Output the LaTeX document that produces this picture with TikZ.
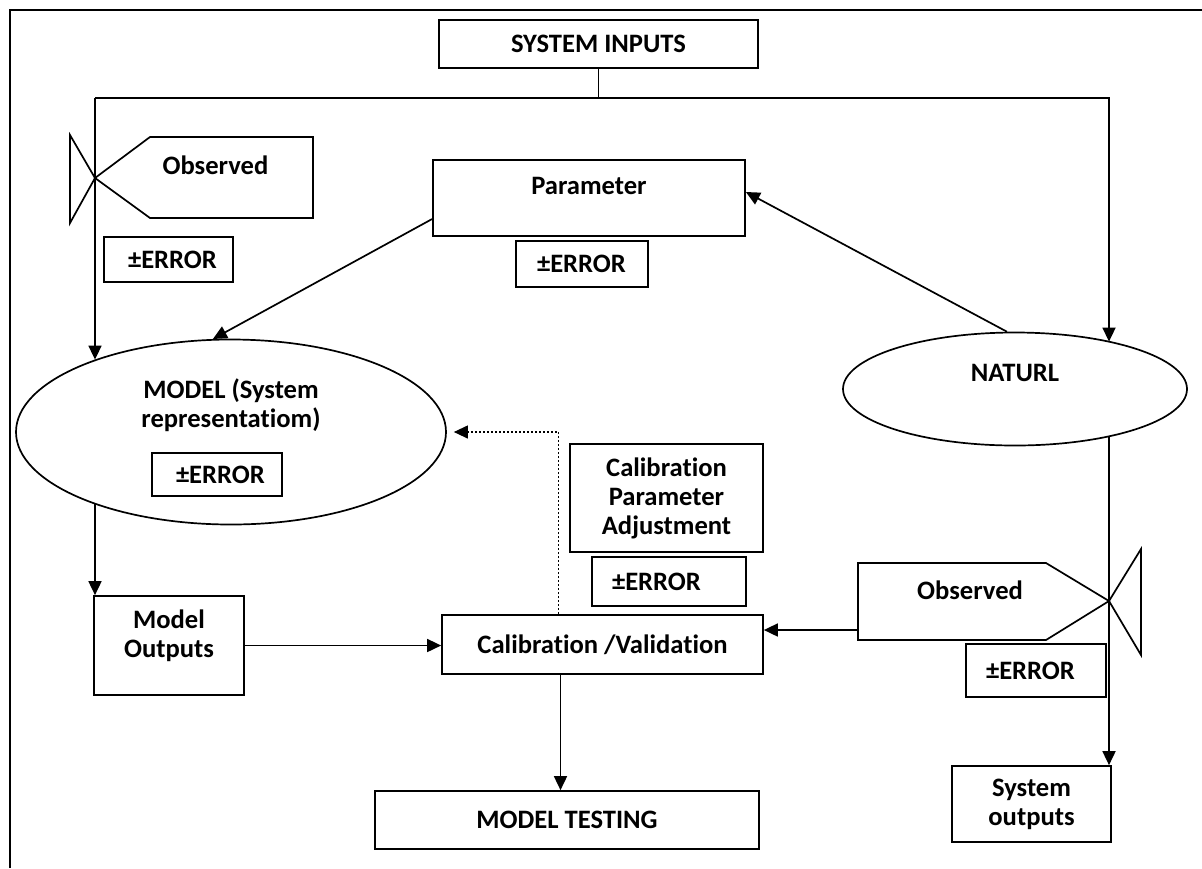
\documentclass[tikz,border=0pt]{standalone}
\usepackage{fontspec}
\setmainfont{Carlito}[Ligatures={NoCommon}]
\usetikzlibrary{arrows.meta,shapes.geometric}

\begin{document}
\begin{tikzpicture}[
      x=0.5pt, y=-0.5pt, line width=0.85pt,
      >={Triangle[length=7pt,width=6.5pt]},
      box/.style={draw, align=center, inner sep=0pt,
        font=\fontsize{13.3}{14.5}\selectfont\bfseries},
      errbox/.style={box, align=left, inner xsep=10pt},
      oval/.style={box, ellipse},
      label/.style={font=\fontsize{13.3}{14.5}\selectfont\bfseries, align=center},
      arrow/.style={->},
      feedback/.style={->, dash pattern=on 1pt off 1pt, line width=0.6pt}
    ]
    \useasboundingbox (0,0) rectangle (1202,868);
    \draw[line width=1.4pt] (10,868) -- (10,10) -- (1202,10);

    % Inputs and parameters
    \node[box, minimum width=159.5pt, minimum height=24pt] (inputs) at (598.5,44) {SYSTEM INPUTS};
    \node[box, minimum width=156pt, minimum height=38pt, text depth=12.5pt] (param) at (589,198) {Parameter};
    \node[errbox, text width=45pt, inner xsep=10.5pt, minimum height=23pt] (errP) at (582,264) {±ERROR};

    % Observed (input side)
    \coordinate (obsLtip) at (95,178);
    \draw (obsLtip) -- (150,137) -- (313,137) -- (313,218) -- (150,218) -- cycle;
    \draw (70,135) -- (70,223) -- (obsLtip) -- cycle;
    \node[label] (obsL) at (215.5,165) {Observed};
    \node[errbox, text width=40.5pt, inner xsep=12pt, minimum height=22.5pt] (errL) at (168.5,259.5) {±ERROR};

    % Model and nature
    \node[oval, minimum width=215pt, minimum height=92.5pt] (model) at (231,432) {};
    \node[label] (modeltxt) at (231,405) {MODEL (System\\representatiom)};
    \node[errbox, text width=41pt, inner xsep=12pt, minimum height=21.5pt] (errM) at (217,474.5) {±ERROR};
    \node[oval, minimum width=172pt, minimum height=56.5pt, text depth=16pt] (naturl) at (1015,389) {NATURL};

    % Calibration
    \node[box, minimum width=75pt, minimum height=49.5pt, text depth=11.5pt] (mout) at (169,645.5) {Model\\Outputs};
    \node[box, minimum width=96.5pt, minimum height=54pt] (calpar) at (666.5,498) {Calibration\\Parameter\\Adjustment};
    \node[errbox, text width=57pt, minimum height=24.5pt] (errC) at (669,581.5) {±ERROR};
    \node[box, minimum width=160.5pt, minimum height=29.5pt] (calval) at (602.5,644.5) {Calibration /Validation};
    \node[box, minimum width=192pt, minimum height=29pt] (mtest) at (567,820) {MODEL TESTING};

    % Observed (output side)
    \coordinate (obsRtip) at (1109,601);
    \draw (obsRtip) -- (1046,563) -- (858,563) -- (858,640) -- (1046,640) -- cycle;
    \draw (1141,549) -- (1141,655) -- (obsRtip) -- cycle;
    \node[label] (obsR) at (970,590) {Observed};
    \node[errbox, text width=50pt, minimum height=26.5pt] (errR) at (1036,670.5) {±ERROR};
    \node[box, minimum width=79.5pt, minimum height=38pt] (sysout) at (1031.5,804) {System\\outputs};

    % connectors
    \coordinate (topL) at (95,98);
    \coordinate (topR) at (1109,98);
    \draw (inputs.south) -- (inputs.south |- topL);
    \draw[arrow] (topL) -- (topR) -- (topR |- naturl.26.7);
    \draw[arrow] (topL) -- (topL |- model.152);
    \draw[arrow] (topL |- model.-152) -- (topL |- mout.north);
    \draw[arrow] (topR |- naturl.-26.7) -- (topR |- sysout.north);
    \draw[arrow] ([yshift=-10.5pt]param.west) -- (model.101);
    \draw[arrow] (naturl.98) -- ([yshift=3pt]param.east);
    \draw[arrow] (mout.east) -- (mout.east -| calval.west);
    \coordinate (obsRin) at (858,630);
    \draw[arrow] (obsRin) -- (obsRin -| calval.east);
    \draw[arrow] ([xshift=-21pt]calval.south) -- ([xshift=-21pt]calval.south |- mtest.north);
    \draw[feedback, shorten >=3.5pt] ([xshift=-22pt]calval.north) |- (model.east);
  \end{tikzpicture}
\end{document}
